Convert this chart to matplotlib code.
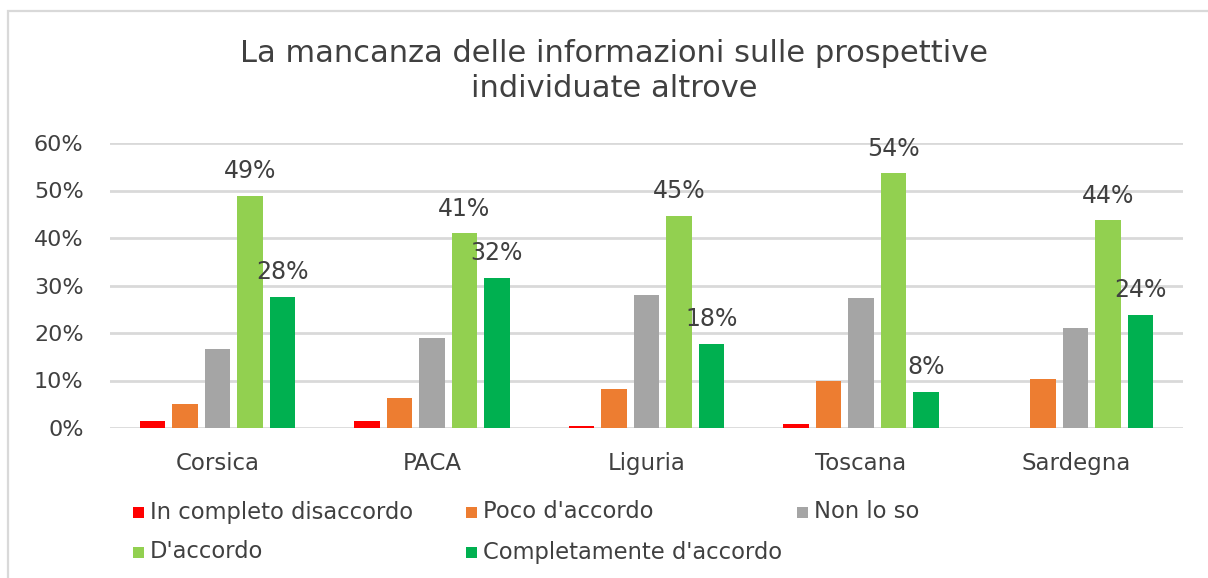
import matplotlib
matplotlib.use("Agg")
import matplotlib.pyplot as plt
from matplotlib.patches import Rectangle
import numpy as np

# Survey data: share of respondents per region and answer
regions = ["Corsica", "PACA", "Liguria", "Toscana", "Sardegna"]
series_names = ["In completo disaccordo", "Poco d'accordo", "Non lo so",
                "D'accordo", "Completamente d'accordo"]
in_completo_disaccordo = [0.015, 0.015, 0.004, 0.009, 0.0]
poco_accordo = [0.050, 0.063, 0.082, 0.099, 0.103]
non_lo_so = [0.166, 0.189, 0.281, 0.273, 0.211]
d_accordo = [0.489, 0.410, 0.447, 0.536, 0.437]
completamente_accordo = [0.276, 0.316, 0.177, 0.076, 0.238]
series_values = [in_completo_disaccordo, poco_accordo, non_lo_so,
                 d_accordo, completamente_accordo]
labelled_series = [3, 4]
y_ticks = [0.0, 0.1, 0.2, 0.3, 0.4, 0.5, 0.6]
title = "La mancanza delle informazioni sulle prospettive\nindividuate altrove"

colors = ["#FF0000", "#ED7D31", "#A5A5A5", "#92D050", "#00B050"]
text_color = "#404040"
grid_color = "#D9D9D9"
font = "DejaVu Sans"

W, H = 1208, 578
fig = plt.figure(figsize=(W / 100, H / 100), dpi=100)
fig.patch.set_facecolor("white")

# chart frame (top and left edges visible)
fig.add_artist(Rectangle((8 / W, -0.1), 1.2, 1.1 - 11 / H,
                         transform=fig.transFigure, fill=False,
                         edgecolor=grid_color, linewidth=1.6))

ax = fig.add_axes([110 / W, 1 - 428 / H, (1183 - 110) / W, (428 - 143) / H])
ax.set_xlim(-0.5, len(regions) - 0.5)
ax.set_ylim(0, 0.6)

x = np.arange(len(regions))
slot = 0.1515
bar_w = 0.119
n = len(series_values)
for i, (name, vals) in enumerate(zip(series_names, series_values)):
    offs = (i - (n - 1) / 2) * slot
    bars = ax.bar(x + offs, vals, width=bar_w, color=colors[i], label=name,
                  zorder=3)
    if i in labelled_series:
        ax.bar_label(bars, labels=[f"{round(v * 100)}%" for v in vals],
                     padding=9, fontsize=17, color=text_color, family=font)

ax.set_yticks(y_ticks)
ax.set_yticklabels([f"{t * 100:.0f}%" for t in y_ticks])
ax.set_xticks(x)
ax.set_xticklabels(regions)
ax.tick_params(axis="y", length=0, pad=19, labelsize=16, labelcolor=text_color)
ax.tick_params(axis="x", length=0, pad=17, labelsize=16.5, labelcolor=text_color)
for lbl in ax.get_xticklabels() + ax.get_yticklabels():
    lbl.set_family(font)
ax.grid(axis="y", color=grid_color, linewidth=2, zorder=0)
for s in ax.spines.values():
    s.set_visible(False)
ax.set_facecolor("none")

fig.text(614 / W, 1 - 71 / H, title, ha="center", va="center",
         fontsize=22, color=text_color, family=font, linespacing=1.25)

# legend laid out in rows, three entries per row
leg_cols = [133, 466, 797]
leg_rows = [512, 552]
sq = 11
for k, name in enumerate(series_names):
    cx = leg_cols[k % 3]
    cy = leg_rows[k // 3]
    fig.add_artist(Rectangle((cx / W, 1 - (cy + sq / 2) / H), sq / W, sq / H,
                             transform=fig.transFigure, facecolor=colors[k],
                             edgecolor="none"))
    fig.text((cx + 17) / W, 1 - cy / H, name, ha="left", va="center",
             fontsize=16.3, color=text_color, family=font)

fig.savefig("out.png", dpi=100, facecolor="white")
